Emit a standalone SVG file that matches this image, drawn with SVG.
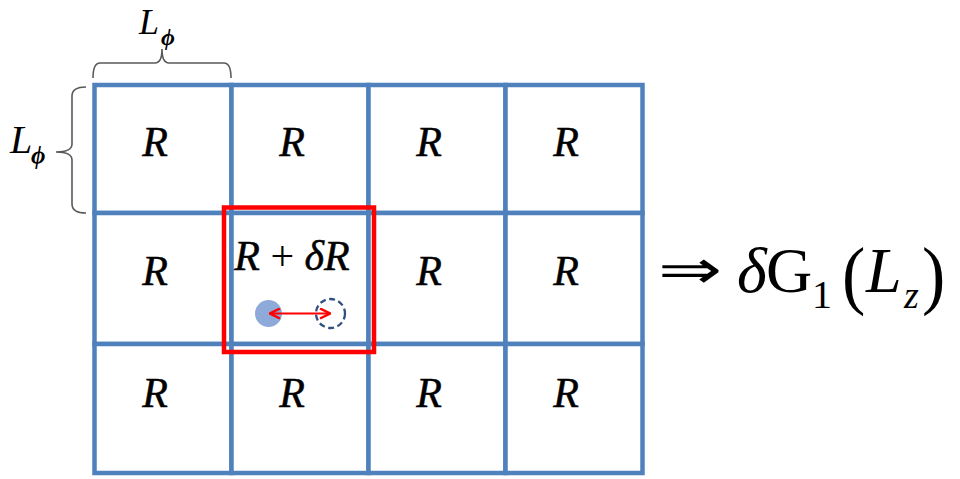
<svg xmlns="http://www.w3.org/2000/svg" width="960" height="479" viewBox="0 0 960 479">
  <style>
    .cell { fill: #ffffff; stroke: #4f81bd; stroke-width: 4.5; }
    .lbl { font-family: "Liberation Serif", "Times New Roman", serif; font-style: italic; font-size: 42px; fill: #000; stroke: #000; stroke-width: 0.5; text-anchor: middle; }
    .brace { fill: none; stroke: #595959; stroke-width: 1.6; }
    .math { font-family: "Liberation Serif", "Times New Roman", serif; fill: #000; }
    .it { font-style: italic; }
  </style>
  <defs>
    <marker id="head" viewBox="0 0 12 12" refX="11" refY="6" markerWidth="12" markerHeight="12" markerUnits="userSpaceOnUse" orient="auto-start-reverse">
      <path d="M1,1 L11,6 L1,11" fill="none" stroke="#ff0000" stroke-width="2.5"/>
    </marker>
  </defs>

  <rect width="960" height="479" fill="#ffffff"/>

  <!-- size brackets -->
  <g id="brace-top">
    <path class="brace" d="M93,78 Q93,63 100,63 L155,63 Q162,63 162,49 Q162,63 169,63 L224,63 Q231,63 231,78"/>
    <text class="math it" x="139" y="34" font-size="36">L</text>
    <text class="math it" x="161" y="45" font-size="24" font-weight="bold">ϕ</text>
  </g>
  <g id="brace-left">
    <path class="brace" d="M86,87 Q72,87 72,96 L72,144 Q72,152 56,152 Q72,152 72,160 L72,204 Q72,213 86,213"/>
    <text class="math it" x="10" y="153" font-size="40">L</text>
    <text class="math it" x="31" y="164" font-size="25" font-weight="bold">ϕ</text>
  </g>

  <!-- row 1 -->
  <g id="cell-1-1"><rect class="cell" x="94.5" y="85" width="137" height="128"/><text class="lbl" x="155" y="156">R</text></g>
  <g id="cell-1-2"><rect class="cell" x="231.5" y="85" width="137" height="128"/><text class="lbl" x="292" y="156">R</text></g>
  <g id="cell-1-3"><rect class="cell" x="368.5" y="85" width="137" height="128"/><text class="lbl" x="429" y="156">R</text></g>
  <g id="cell-1-4"><rect class="cell" x="505.5" y="85" width="137" height="128"/><text class="lbl" x="566" y="156">R</text></g>

  <!-- row 2 -->
  <g id="cell-2-1"><rect class="cell" x="94.5" y="213" width="137" height="131"/><text class="lbl" x="155" y="285">R</text></g>
  <g id="cell-2-2">
    <rect class="cell" x="231.5" y="213" width="137" height="131"/>
    <text class="lbl" x="292" y="270"><tspan>R</tspan><tspan font-style="normal" stroke-width="0"> + </tspan><tspan>δR</tspan></text>
    <circle cx="268.5" cy="313.5" r="13.5" fill="#8eaad8"/>
    <circle cx="330.5" cy="313.5" r="14.5" fill="none" stroke="#2f5080" stroke-width="2.3" stroke-dasharray="6 3.5"/>
  </g>
  <g id="cell-2-3"><rect class="cell" x="368.5" y="213" width="137" height="131"/><text class="lbl" x="429" y="285">R</text></g>
  <g id="cell-2-4"><rect class="cell" x="505.5" y="213" width="137" height="131"/><text class="lbl" x="566" y="285">R</text></g>

  <!-- row 3 -->
  <g id="cell-3-1"><rect class="cell" x="94.5" y="344" width="137" height="129"/><text class="lbl" x="155" y="407">R</text></g>
  <g id="cell-3-2"><rect class="cell" x="231.5" y="344" width="137" height="129"/><text class="lbl" x="292" y="407">R</text></g>
  <g id="cell-3-3"><rect class="cell" x="368.5" y="344" width="137" height="129"/><text class="lbl" x="429" y="407">R</text></g>
  <g id="cell-3-4"><rect class="cell" x="505.5" y="344" width="137" height="129"/><text class="lbl" x="566" y="407">R</text></g>

  <!-- perturbed cell highlight -->
  <g id="highlight">
    <rect x="224" y="207.5" width="150" height="144.5" fill="none" stroke="#ff0000" stroke-width="4.5"/>
  </g>

  <!-- displacement connector -->
  <g id="connectors">
    <line x1="270" y1="313.5" x2="330" y2="313.5" stroke="#ff0000" stroke-width="2" marker-start="url(#head)" marker-end="url(#head)"/>
  </g>

  <!-- result -->
  <g id="result">
    <text transform="translate(658,288) scale(1.42,1)" font-family="DejaVu Sans, sans-serif" font-weight="200" font-size="54" fill="#000">⇒</text>
    <text class="math it" x="737" y="292" font-size="64">δ</text>
    <text class="math" x="766" y="292" font-size="64">G</text>
    <text class="math" x="812" y="308" font-size="40">1</text>
    <text class="math" transform="translate(842,300) scale(1,1.1)" font-size="70">(</text>
    <text class="math it" x="866" y="292" font-size="64">L</text>
    <text class="math it" x="904" y="308" font-size="38">z</text>
    <text class="math" transform="translate(922,300) scale(1,1.1)" font-size="70">)</text>
  </g>
</svg>
